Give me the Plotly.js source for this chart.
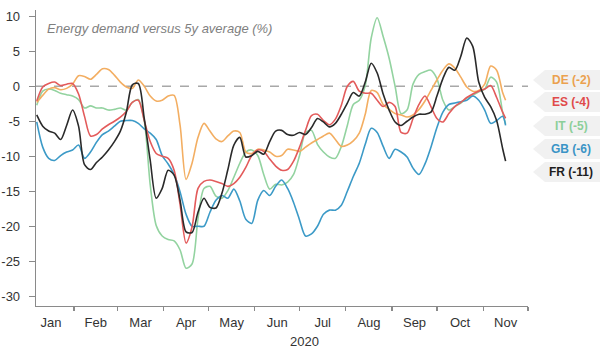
<!DOCTYPE html>
<html>
<head>
<meta charset="utf-8">
<script src="https://cdn.plot.ly/plotly-3.0.1.min.js"></script>
<style>html,body{margin:0;padding:0;background:#fff;}#chart{width:600px;height:353px;}</style>
</head>
<body>
<div id="chart"></div>
<script>
const dates = ['2020-01-07','2020-01-11','2020-01-15','2020-01-19','2020-01-23','2020-01-27','2020-01-31','2020-02-04','2020-02-08','2020-02-12',
'2020-02-16','2020-02-20','2020-02-24','2020-02-28','2020-03-03','2020-03-07','2020-03-11','2020-03-15','2020-03-19','2020-03-23',
'2020-03-27','2020-03-31','2020-04-04','2020-04-08','2020-04-12','2020-04-16','2020-04-20','2020-04-24','2020-04-28','2020-05-02',
'2020-05-06','2020-05-10','2020-05-14','2020-05-18','2020-05-22','2020-05-26','2020-05-30','2020-06-03','2020-06-07','2020-06-11',
'2020-06-15','2020-06-19','2020-06-23','2020-06-27','2020-07-01','2020-07-05','2020-07-09','2020-07-13','2020-07-17','2020-07-21',
'2020-07-25','2020-07-29','2020-08-02','2020-08-06','2020-08-10','2020-08-14','2020-08-18','2020-08-22','2020-08-26','2020-08-30',
'2020-09-03','2020-09-07','2020-09-11','2020-09-15','2020-09-19','2020-09-23','2020-09-27','2020-10-01','2020-10-05','2020-10-09',
'2020-10-13','2020-10-17','2020-10-21','2020-10-25','2020-10-29','2020-11-02','2020-11-06','2020-11-10','2020-11-14','2020-11-16'];

const DE = [-2.3,-1.3,-0.4,-0.2,-0.5,-0.3,0.3,1.5,1.4,1.0,
1.7,2.5,2.4,1.6,0.6,-0.1,-0.3,0.9,0,-1.4,
-2.1,-2.0,-1.4,-1.3,-5.6,-13.3,-11.0,-7.3,-5.3,-6.4,
-7.5,-7.9,-7.1,-6.4,-6.6,-9.4,-9.6,-9.0,-9.1,-9.4,
-10.0,-9.9,-9.0,-9.1,-9.3,-8.7,-8.1,-7.6,-7.1,-6.7,
-7.6,-8.6,-8.4,-7.8,-6.7,-4.0,-0.6,-0.9,-2.6,-3.3,
-3.9,-4.1,-4.4,-4.1,-3.3,-2.1,-0.6,0.9,2.3,3.2,
2.6,1.3,-0.1,-0.7,-0.6,0.3,2.9,2.3,-0.9,-2.0];

const ES = [-2.1,-0.1,0.4,0.6,0.1,0.3,0.4,-1.1,-4.3,-7.1,
-6.9,-6.1,-5.5,-5.0,-4.4,-3.6,-2.3,-2.0,-4.9,-7.9,
-9.6,-10.0,-10.3,-12.0,-16.9,-22.4,-20.1,-14.6,-13.6,-13.4,
-13.6,-13.9,-14.3,-13.9,-13.0,-11.6,-9.9,-9.1,-9.3,-10.4,
-11.4,-12.0,-11.9,-10.7,-8.7,-6.3,-4.2,-4.0,-4.9,-5.5,
-4.7,-2.7,0,0.7,-0.7,-1.0,-1.0,-2.0,-2.9,-2.3,
-2.9,-6.6,-6.7,-4.6,-2.6,-1.4,-2.9,-4.6,-5.1,-3.9,
-2.9,-2.3,-1.6,-1.1,-0.7,-0.4,0.1,-1.6,-3.7,-4.6];

const IT = [-2.7,-0.7,-0.4,-0.6,-1.0,-1.2,-1.4,-1.9,-3.1,-2.8,
-3.1,-3.1,-3.4,-3.3,-3.1,-3.4,-2.3,-1.9,-4.9,-14.1,
-19.9,-21.4,-21.9,-22.1,-23.4,-26.0,-25.4,-18.9,-14.6,-14.3,
-15.7,-16.0,-14.9,-13.0,-11.0,-9.4,-9.1,-9.9,-12.6,-14.7,
-14.0,-14.1,-13.7,-12.6,-9.9,-6.6,-6.3,-8.3,-9.4,-10.1,
-10.3,-8.6,-5.6,-2.6,-2.0,0.1,6.9,9.8,7.1,4.0,
0,-3.9,-3.4,0.3,1.7,2.1,2.3,1.1,-2.0,-3.4,
-2.9,-2.4,-1.7,-1.3,-0.8,-0.4,1.3,0.6,-3.7,-5.4];

const GB = [-5.1,-8.7,-10.3,-10.6,-9.9,-9.4,-9.1,-8.4,-10.3,-9.4,
-8.0,-6.9,-6.4,-5.7,-5.0,-4.9,-4.9,-5.3,-6.1,-6.7,
-7.6,-9.9,-11.1,-12.6,-15.1,-18.3,-20.0,-20.0,-20.0,-18.0,
-16.3,-15.6,-16.0,-14.7,-16.4,-19.0,-19.6,-16.3,-14.9,-15.6,
-14.3,-13.4,-14.6,-16.6,-19.1,-21.4,-21.1,-20.0,-18.3,-17.7,
-17.7,-17.0,-15.0,-12.9,-11.0,-8.3,-6.0,-6.6,-8.6,-10.3,
-9.0,-9.4,-10.1,-11.7,-12.6,-11.1,-8.7,-5.9,-3.7,-2.6,
-2.4,-2.2,-2.0,-1.4,-2.0,-3.4,-5.3,-4.9,-4.3,-5.6];

const FR = [-4.1,-5.7,-6.4,-6.7,-7.6,-5.6,-3.4,-5.7,-11.2,-11.9,
-10.9,-10.1,-9.1,-7.9,-6.4,-3.7,0.2,0.4,-4.6,-10.6,
-16.0,-14.6,-12.0,-12.7,-16.3,-20.8,-20.9,-18.0,-16.0,-17.3,
-17.4,-15.3,-11.9,-8.4,-7.3,-10.1,-9.9,-9.3,-9.7,-7.9,
-6.4,-6.3,-6.9,-7.0,-6.6,-6.9,-5.9,-4.6,-5.1,-5.8,
-5.3,-4.0,-2.4,-0.9,-1.4,0.6,3.3,1.9,-1.1,-3.4,
-5.1,-5.6,-5.0,-4.4,-4.0,-4.0,-3.7,-1.4,1.1,2.7,
2.3,4.3,6.9,5.7,0.6,-1.6,-2.9,-4.9,-8.9,-10.7];

const seriesNames = ['DE','ES','IT','GB','FR'];
const seriesLabels = ['DE (-2)','ES (-4)','IT (-5)','GB (-6)','FR (-11)'];
const seriesData = {DE: DE, ES: ES, IT: IT, GB: GB, FR: FR};
const yTicks = [-30,-25,-20,-15,-10,-5,0,5,10];
const titleText = 'Energy demand versus 5y average (%)';
const yearLabel = '2020';

const lineColors = {DE:'#F3AE62', ES:'#E35B5B', IT:'#93D3A0', GB:'#3C9AC7', FR:'#2a2a2a'};
const textColors = {DE:'#EBA14E', ES:'#E04A4A', IT:'#8CCF99', GB:'#3A94C6', FR:'#1e1e1e'};
const drawOrder = ['IT','DE','GB','ES','FR'];

const traces = drawOrder.map(n => ({
  x: dates, y: seriesData[n], type: 'scatter', mode: 'lines', name: n,
  line: {color: lineColors[n], width: 1.6, shape: 'spline', smoothing: 0.8},
  hoverinfo: 'skip'
}));

// plot area in px: left 36, right 528, top 10, bottom 306
const L = 36, R = 528, T = 10, B = 306;
const px2x = px => (px - L) / (R - L);
const px2y = py => (B - py) / (B - T);

const labelCenters = [80, 102, 126, 149, 172];
const shapes = [{
  type: 'line', xref: 'paper', x0: 0, x1: 1, yref: 'y', y0: 0, y1: 0,
  line: {color: '#a8a8a8', width: 1.3, dash: 'dash'}, layer: 'below'
}];
const annotations = [];
seriesNames.forEach((n, i) => {
  const yc = labelCenters[i];
  const x0 = px2x(533), x1 = px2x(545), x2 = px2x(600);
  const yt = px2y(yc - 10), yb = px2y(yc + 10), ym = px2y(yc);
  shapes.push({
    type: 'path', xref: 'paper', yref: 'paper',
    path: `M ${x0} ${ym} L ${x1} ${yt} L ${x2} ${yt} L ${x2} ${yb} L ${x1} ${yb} Z`,
    fillcolor: '#f1f1f1', line: {width: 0}, layer: 'below'
  });
  annotations.push({
    xref: 'paper', yref: 'paper', x: px2x(571), y: ym, xanchor: 'center', yanchor: 'middle',
    text: '<b>' + seriesLabels[i] + '</b>', showarrow: false,
    font: {family: 'Liberation Sans, Arial, sans-serif', size: 12, color: textColors[n]}
  });
});
annotations.push({
  xref: 'paper', yref: 'paper', x: px2x(45), y: px2y(29), xanchor: 'left', yanchor: 'middle',
  text: titleText, showarrow: false,
  font: {family: 'Liberation Sans, Arial, sans-serif', size: 13, color: '#7f7f7f', style: 'italic'}
});
annotations.push({
  xref: 'paper', yref: 'paper', x: px2x(304), y: px2y(341), xanchor: 'center', yanchor: 'middle',
  text: yearLabel, showarrow: false,
  font: {family: 'Liberation Sans, Arial, sans-serif', size: 13, color: '#333333'}
});

const layout = {
  width: 600, height: 353,
  margin: {l: L, r: 600 - R, t: T, b: 353 - B, pad: 0},
  paper_bgcolor: '#ffffff', plot_bgcolor: '#ffffff',
  showlegend: false,
  font: {family: 'Liberation Sans, Arial, sans-serif', size: 13, color: '#333333'},
  xaxis: {
    type: 'date', range: ['2020-01-06 12:00', '2020-12-01'],
    tick0: '2020-01-01', dtick: 'M1', tickformat: '%b', ticklabelmode: 'period',
    ticks: 'outside', ticklen: 4, tickwidth: 1.3, tickcolor: '#8a8a8a',
    showline: true, linecolor: '#8a8a8a', linewidth: 1.3,
    showgrid: false, zeroline: false,
    tickfont: {size: 13, color: '#333333'}
  },
  yaxis: {
    range: [-31.4, 10.9], tickvals: yTicks, ticktext: yTicks.map(String),
    ticks: 'outside', ticklen: 6, tickwidth: 1.3, tickcolor: '#8a8a8a',
    showline: true, linecolor: '#8a8a8a', linewidth: 1.3,
    showgrid: false, zeroline: false, ticklabelstandoff: 6,
    tickfont: {size: 13, color: '#333333'}
  },
  shapes: shapes,
  annotations: annotations
};

Plotly.newPlot('chart', traces, layout, {staticPlot: true, displayModeBar: false});
</script>
</body>
</html>
